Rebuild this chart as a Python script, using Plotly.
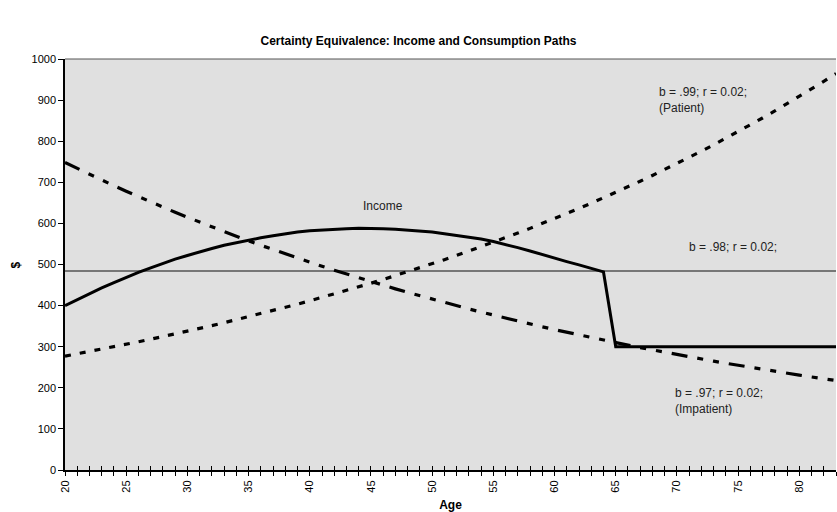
import plotly.graph_objects as go

ages = list(range(20, 84))

income = [400, 415, 429, 443, 456, 469, 481, 492, 503, 513,
          522, 531, 539, 547, 553, 560, 565, 570, 575, 579,
          582, 584, 586, 587, 588, 588, 587, 586, 584, 582,
          579, 575, 571, 567, 562, 556, 549, 541, 533, 524,
          515, 507, 499, 491, 482,
          300, 300, 300, 300, 300, 300, 300, 300, 300, 300,
          300, 300, 300, 300, 300, 300, 300, 300, 300]

patient = [277.0, 282.5, 288.2, 294.0, 299.8, 305.8, 311.9, 318.2, 324.5, 331.0,
           337.7, 344.4, 351.3, 358.3, 365.5, 372.8, 380.3, 387.9, 395.6, 403.5,
           411.6, 419.8, 428.2, 436.8, 445.5, 454.4, 463.5, 472.8, 482.3, 491.9,
           501.8, 511.8, 522.0, 532.5, 543.1, 554.0, 565.1, 576.4, 587.9, 599.6,
           611.6, 623.9, 636.3, 649.1, 662.1, 675.3, 688.8, 702.6, 716.6, 731.0,
           745.6, 760.5, 775.7, 791.2, 807.0, 823.2, 839.6, 856.4, 873.5, 891.0,
           908.8, 927.0, 945.6, 964.5]

impatient = [748.0, 733.5, 719.3, 705.3, 691.6, 678.2, 665.0, 652.1, 639.5, 627.1,
             614.9, 603.0, 591.3, 579.8, 568.6, 557.5, 546.7, 536.1, 525.7, 515.5,
             505.5, 495.7, 486.1, 476.7, 467.4, 458.4, 449.5, 440.7, 432.2, 423.8,
             415.6, 407.5, 399.6, 391.9, 384.3, 376.8, 369.5, 362.3, 355.3, 348.4,
             341.6, 335.0, 328.5, 322.1, 315.9, 309.8, 303.8, 297.9, 292.1, 286.4,
             280.9, 275.4, 270.1, 264.8, 259.7, 254.6, 249.7, 244.9, 240.1, 235.5,
             230.9, 226.4, 222.0, 217.7]

middle = [484] * len(ages)

FONT = "Liberation Sans, Arial, sans-serif"

fig = go.Figure()
fig.add_trace(go.Scatter(x=ages, y=middle, mode="lines",
                         line=dict(color="#555555", width=1.5)))
fig.add_trace(go.Scatter(x=ages, y=patient, mode="lines",
                         line=dict(color="black", width=3.2, dash="6px,9px")))
fig.add_trace(go.Scatter(x=ages, y=impatient, mode="lines",
                         line=dict(color="black", width=3.2,
                                   dash="16px,10px,6px,10px,6px,10px")))
fig.add_trace(go.Scatter(x=ages, y=income, mode="lines",
                         line=dict(color="black", width=3)))

fig.update_layout(
    width=837, height=512,
    margin=dict(l=65, r=1, t=59, b=42, autoexpand=False),
    plot_bgcolor="#e0e0e0", paper_bgcolor="white",
    showlegend=False,
    font=dict(family=FONT, size=11, color="black"),
    title=dict(text="<b>Certainty Equivalence: Income and Consumption Paths</b>",
               x=0.5, xref="container", xanchor="center",
               y=1 - 41 / 512, yref="container", yanchor="middle",
               font=dict(family=FONT, size=12, color="black")),
    xaxis=dict(range=[20, 83], tickmode="linear", tick0=20, dtick=5,
               ticks="outside", ticklen=4, tickwidth=1, tickcolor="black",
               minor=dict(ticks="outside", tickmode="linear", tick0=20, dtick=1,
                          ticklen=4, tickwidth=1, tickcolor="black"),
               showline=True, linecolor="black", linewidth=2,
               tickangle=-90, showgrid=False, zeroline=False, automargin=False,
               tickfont=dict(size=11, color="black"),
               title=dict(text="<b>Age</b>", font=dict(size=12), standoff=10)),
    xaxis2=dict(range=[20, 83], overlaying="x", anchor="y", side="bottom",
                tickmode="linear", tick0=20, dtick=1, ticks="inside",
                ticklen=4, tickwidth=1, tickcolor="black",
                showticklabels=False, showline=False, showgrid=False,
                zeroline=False, automargin=False),
    yaxis=dict(range=[0, 1000], tickmode="linear", tick0=0, dtick=100,
               ticks="outside", ticklen=5, tickwidth=1, tickcolor="black",
               showline=True, linecolor="black", linewidth=1.5, automargin=False,
               showgrid=False, zeroline=False, tickfont=dict(size=11, color="black")),
)

# invisible trace to activate xaxis2
fig.add_trace(go.Scatter(x=[20], y=[0], xaxis="x2", mode="markers",
                         marker=dict(opacity=0), hoverinfo="skip"))

fig.add_shape(type="line", xref="paper", yref="paper", x0=0, x1=1, y0=1, y1=1,
              line=dict(color="#555555", width=1))

# y-axis title "$"
fig.add_annotation(xref="paper", yref="paper", x=(15 - 65) / 771, y=0.5,
                   text="<b>$</b>", textangle=-90, showarrow=False,
                   xanchor="center", yanchor="middle",
                   font=dict(family=FONT, size=12, color="black"))

ann_font = dict(family=FONT, size=12, color="#222222")
fig.add_annotation(x=68.4, y=901, text="b = .99; r = 0.02;<br>(Patient)",
                   showarrow=False, xanchor="left", yanchor="middle",
                   align="left", font=ann_font)
fig.add_annotation(x=46.0, y=642, text="Income", showarrow=False,
                   xanchor="center", yanchor="middle", font=ann_font)
fig.add_annotation(x=74.6, y=543, text="b = .98; r = 0.02;", showarrow=False,
                   xanchor="center", yanchor="middle", font=ann_font)
fig.add_annotation(x=69.7, y=167, text="b = .97; r = 0.02;<br>(Impatient)",
                   showarrow=False, xanchor="left", yanchor="middle",
                   align="left", font=ann_font)

fig.write_html("out.html", config={"displayModeBar": False},
               post_script="document.body.style.margin='0';document.body.style.padding='0';")
